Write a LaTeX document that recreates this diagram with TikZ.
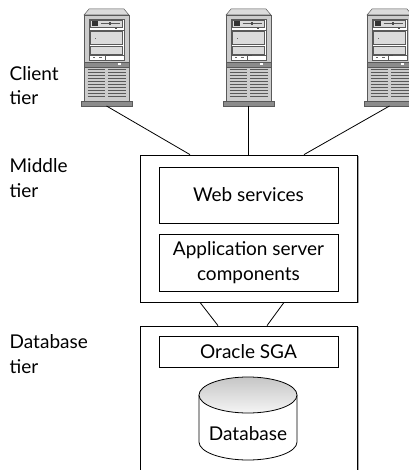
\documentclass[tikz,border=0pt]{standalone}
\usepackage{fontspec}
\setmainfont{Lato}
\usepackage{xcolor}
\usepackage{tikz}
\usetikzlibrary{positioning,shadows}

\definecolor{srvbody}{gray}{0.80}
\definecolor{srvcap}{gray}{0.86}
\definecolor{srvdark}{gray}{0.55}
\definecolor{srvline}{gray}{0.35}
\definecolor{srvbay}{gray}{0.86}

\newcommand{\tierfont}{\fontsize{19}{24.5}\selectfont}

\tikzset{
  tier/.style={align=left, anchor=base west, inner sep=0pt, font=\tierfont},
  tierbox/.style={draw, fill=white, line width=0.8pt,
    general shadow={fill=black!35, shadow xshift=1.6pt, shadow yshift=-0.8pt}},
  partbox/.style={draw, fill=white, line width=0.8pt, align=center,
    font=\tierfont, inner sep=0pt},
  link/.style={line width=0.8pt},
  srv/.style={draw=srvline, line width=0.5pt},
  server/.pic={
    \draw[srv, fill=srvbody] (-22.5,-6) rectangle (22.5,-92);
    \draw[srv, fill=srvcap] (-17.5,0) -- (17.5,0) -- (22.5,-6) -- (-22.5,-6) -- cycle;
    % drive bays
    \draw[srv, fill=white] (-17.5,-10) rectangle (17.5,-51);
    \draw[srv, fill=srvbay] (-16,-11.5) rectangle (16,-18);
    \fill[black!80] (-14.5,-12.5) rectangle (-9,-17);
    \draw[srv] (-6,-14.5) -- (13,-14.5);
    \fill[black!70] (2,-13) rectangle (4.5,-16);
    \draw[srv] (-17.5,-21) -- (17.5,-21);
    \fill[black!70] (8,-19) rectangle (10,-20.5);
    \draw[srv, fill=srvbay] (-16,-22.5) rectangle (16,-35);
    \fill[black!60] (-12,-29) rectangle (-10.5,-30);
    \draw[srv, fill=srvbay] (-16,-37) rectangle (16,-45.5);
    \draw[srv] (-17.5,-46.5) -- (17.5,-46.5);
    \draw[srv] (-1,-46.5) -- (-1,-51);
    \fill[black!60] (-14,-48) rectangle (-12,-49.5);
    \fill[black!60] (-8,-48) rectangle (-5,-49.5);
    \fill[black!70] (-1,-46.5) rectangle (3,-47.5);
    % front strip
    \draw[srv, fill=srvdark] (-22.5,-53) rectangle (22.5,-58);
    \fill[white] (11.5,-54.5) rectangle (14.5,-56.5);
    % vents
    \foreach \vy in {-61,-64,...,-89}{
      \draw[srvline, line width=1pt] (-19,\vy) -- (-1.5,\vy);
      \draw[srvline, line width=1pt] (1.5,\vy) -- (19,\vy);
    }
    \draw[srv, fill=srvdark] (-25.5,-92) rectangle (25.5,-97);
    \coordinate (-base) at (0,-97);
  }
}

\begin{document}
\begin{tikzpicture}[x=1pt, y=1pt]
  \useasboundingbox (0,0) rectangle (408,-470);

  % client tier
  \pic (left) at (106.5,-9) {server};
  \pic (centre) at (248.5,-9) {server};
  \pic (right) at (389.5,-9) {server};
  \node[tier] (client) at (9.5,-105) {Client\\tier};

  % middle tier
  \node[tierbox, minimum width=217pt, minimum height=147pt] (mid) at (248.5,-228.5) {};
  \node[partbox, minimum width=179pt, minimum height=56pt] (web) at (248.5,-195) {Web services};
  \node[partbox, minimum width=179pt, minimum height=57pt] (app) at (248.5,-262.5) {Application server\\components};
  \node[tier] (middle) at (9.5,-197) {Middle\\tier};

  \draw[link] (left-base) -- ([xshift=-58.5pt]mid.north);
  \draw[link] (centre-base) -- (mid.north);
  \draw[link] (right-base) -- ([xshift=55.5pt]mid.north);

  % database tier
  \node[tierbox, minimum width=217pt, minimum height=160pt] (dbtier) at (248.5,-406) {};
  \node[partbox, minimum width=179pt, minimum height=31pt] (sga) at (248.5,-351.5) {Oracle SGA};
  \node[tier] (database) at (9.5,-373) {Database\\tier};

  \draw[link] ([xshift=-48.5pt]mid.south) -- ([xshift=-30.5pt]dbtier.north);
  \draw[link] ([xshift=35.5pt]mid.south) -- ([xshift=18.5pt]dbtier.north);

  \draw[link, fill=white] (199,-395) -- (199,-442)
    arc[start angle=180, end angle=360, x radius=49, y radius=18] -- (297,-395);
  \shade[link, draw, top color=gray!45, bottom color=gray!8] (248,-395) ellipse [x radius=49, y radius=18];
  \node[font=\tierfont, anchor=base] (store) at (248,-440) {Database};
\end{tikzpicture}
\end{document}
